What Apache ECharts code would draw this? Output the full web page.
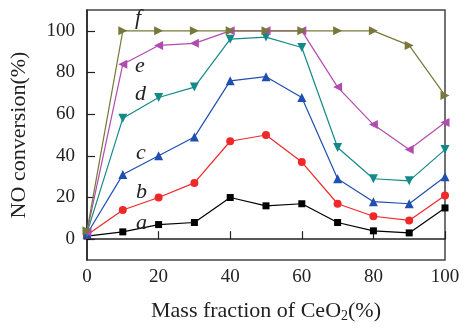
<!DOCTYPE html>
<html>
<head>
<meta charset="utf-8">
<script src="https://cdn.jsdelivr.net/npm/echarts@6/dist/echarts.min.js"></script>
<style>
  html, body { margin: 0; padding: 0; background: #fff; }
  #chart { width: 466px; height: 328px; }
</style>
</head>
<body>
<div id="chart"></div>
<script>
    // data
    var ceo2 = [0, 10, 20, 30, 40, 50, 60, 70, 80, 90, 100];
    var seriesA = [1.5, 3.5, 7, 8, 20, 16, 17, 8, 4, 3, 15];
    var seriesB = [2, 14, 20, 27, 47, 50, 37, 17, 11, 9, 21];
    var seriesC = [2.5, 31, 40, 49, 76, 78, 68, 29, 18, 17, 30];
    var seriesD = [3, 58, 68, 73, 96, 97, 92, 44, 29, 28, 43];
    var seriesE = [3.5, 84, 93, 94, 100, 100, 100, 73, 55, 43, 56];
    var seriesF = [4, 100, 100, 100, 100, 100, 100, 100, 100, 93, 69];
    var names = ['a', 'b', 'c', 'd', 'e', 'f'];
    var yTicks = [0, 20, 40, 60, 80, 100];

    var font = '"Liberation Serif", "DejaVu Serif", serif';

    function pairs(vals) {
        return ceo2.map(function (x, i) { return [x, vals[i]]; });
    }

    function line(name, vals, color, symbol, size, rotate) {
        return {
            name: name,
            type: 'line',
            data: pairs(vals),
            symbol: symbol,
            symbolSize: size,
            symbolRotate: rotate || 0,
            clip: false,
            lineStyle: {color: color, width: 1.2},
            itemStyle: {color: color},
            z: 3
        };
    }

    var myChart = echarts.init(document.getElementById('chart'));

    //曲线标注 a-f
    var tags = [
        {t: 'f', left: 135, top: 7},
        {t: 'e', left: 135, top: 55},
        {t: 'd', left: 135, top: 83},
        {t: 'c', left: 136, top: 142},
        {t: 'b', left: 136, top: 181},
        {t: 'a', left: 136, top: 212}
    ];

    var option = {
        animation: false,
        backgroundColor: '#fff',
        grid: {
            left: 86, right: 21, top: 10, bottom: 58,
            show: true, borderColor: '#444', borderWidth: 1.5
        },
        xAxis: {
            type: 'value',
            min: 0, max: 100, interval: 20,
            name: 'Mass fraction of CeO{sub|2}(%)',
            nameLocation: 'middle',
            nameGap: 40,
            nameTextStyle: {
                fontFamily: font, fontSize: 22, color: '#222',
                rich: {sub: {fontFamily: font, fontSize: 14, color: '#222', verticalAlign: 'bottom', padding: [9, 0, 0, 0]}}
            },
            axisLine: {lineStyle: {color: '#222', width: 1.5}},
            axisTick: {inside: true, length: 8, lineStyle: {color: '#222', width: 1.2}},
            axisLabel: {fontFamily: font, fontSize: 19, color: '#222', margin: 8},
            splitLine: {show: false}
        },
        yAxis: {
            type: 'value',
            min: -10, max: 110,
            name: 'NO conversion(%)',
            nameLocation: 'middle',
            nameGap: 57,
            nameTextStyle: {fontFamily: font, fontSize: 22, color: '#222'},
            axisLine: {show: true, lineStyle: {color: '#222', width: 1.5}},
            axisTick: {show: true, inside: true, length: 8, customValues: yTicks, lineStyle: {color: '#222', width: 1.2}},
            axisLabel: {fontFamily: font, fontSize: 19, color: '#222', margin: 12, customValues: yTicks},
            splitLine: {show: false}
        },
        series: [
            line(names[0], seriesA, '#000000', 'rect', 7),
            line(names[1], seriesB, '#f02828', 'circle', 8),
            line(names[2], seriesC, '#1f4fb0', 'triangle', 9),
            line(names[3], seriesD, '#14898a', 'triangle', 9, 180),
            line(names[4], seriesE, '#b04cb0', 'triangle', 9, 90),
            line(names[5], seriesF, '#78783a', 'triangle', 9, -90)
        ],
        graphic: tags.map(function (g) {
            return {
                type: 'text', left: g.left, top: g.top, z: 10,
                style: {text: g.t, font: 'italic 22px ' + font, fill: '#222'}
            };
        })
    };
    // 使用刚指定的配置项和数据显示图表。
    myChart.setOption(option);
</script>
</body>
</html>
